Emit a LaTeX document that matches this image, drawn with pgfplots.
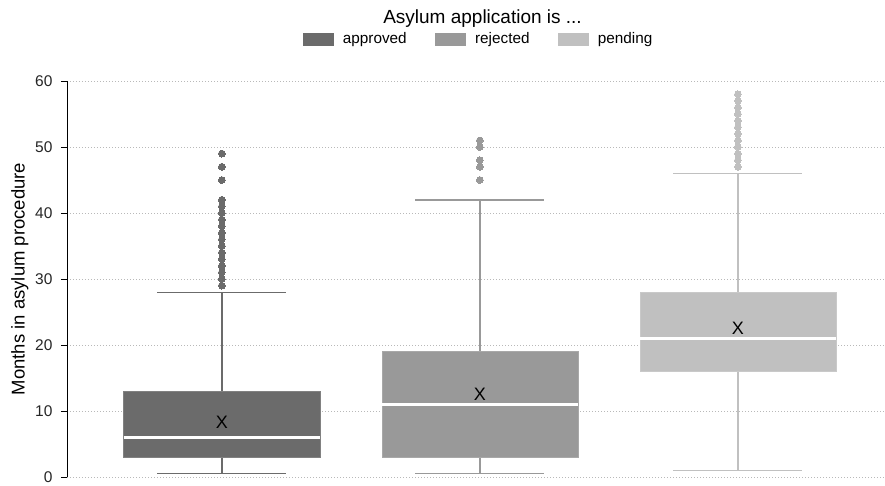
\documentclass[border=0pt]{standalone}
\usepackage{pgfplots}
\pgfplotsset{compat=1.18}
\usepgfplotslibrary{statistics}
\usepackage{fontspec}
\setmainfont{Liberation Sans}
\definecolor{cA}{RGB}{107,107,107}
\definecolor{cB}{RGB}{153,153,153}
\definecolor{cC}{RGB}{192,192,192}
\begin{document}
\begin{tikzpicture}
\useasboundingbox (-67pt,-8pt) rectangle (818pt,477pt);
\begin{axis}[
  scale only axis,
  width=818pt, height=396pt,
  xmin=-0.6, xmax=2.57,
  ymin=0, ymax=60,
  boxplot/draw direction=y,
  axis y line*=left,
  axis x line=none,
  ytick={0,10,...,60},
  tick align=outside,
  major tick length=6pt,
  every tick/.style={black, line width=0.6pt},
  y axis line style={line width=0.8pt, -},
  ymajorgrids,
  major grid style={gray!55, line width=0.7pt, dash pattern=on 0.8pt off 2.2pt},
  /pgf/number format/assume math mode=true,
  yticklabel style={font=\fontsize{15.5}{15.5}\selectfont, text=black!85, xshift=-5pt},
  ylabel={Months in asylum procedure},
  ylabel style={font=\fontsize{18.5}{18.5}\selectfont},
  title={Asylum application is ...},
  title style={at={(0.508,1)}, anchor=center, yshift=56pt, font=\fontsize{19}{19}\selectfont},
  legend style={draw=none, fill=none, legend columns=3, at={(0.503,1)}, anchor=center, yshift=42pt,
    font=\fontsize{15.3}{15.3}\selectfont,
    /tikz/every odd column/.append style={column sep=8pt},
    /tikz/every even column/.append style={column sep=26pt}},
  legend cell align=left,
  clip=false,
]
\addlegendimage{legend image code/.code={\fill[cA] (0pt,-6pt) rectangle (30pt,6pt);}}
\addlegendentry{approved}
\addlegendimage{legend image code/.code={\fill[cB] (0pt,-6pt) rectangle (30pt,6pt);}}
\addlegendentry{rejected}
\addlegendimage{legend image code/.code={\fill[cC] (0pt,-6pt) rectangle (30pt,6pt);}}
\addlegendentry{pending}

\addplot[forget plot, cA, line width=1.4pt, boxplot prepared={draw position=0, lower whisker=0.5, lower quartile=3, median=6, upper quartile=13, upper whisker=28, box extend=0.76, whisker extend=0.5,
  every box/.style={fill=cA, draw=cA!85!white, line width=0.6pt},
  every whisker/.style={cA, line width=1.4pt},
  every median/.style={white, line width=2.6pt}}]
  coordinates {};
\addplot[forget plot, only marks, color=cA, mark=*, mark size=3.4pt, mark options={fill=cA, draw=cA, line width=0pt}]
  coordinates {(0,29)(0,30)(0,31)(0,32)(0,33)(0,34)(0,35)(0,36)(0,37)(0,38)(0,39)(0,40)(0,41)(0,42)(0,45)(0,47)(0,49)};

\addplot[forget plot, cB, line width=1.4pt, boxplot prepared={draw position=1, lower whisker=0.5, lower quartile=3, median=11, upper quartile=19, upper whisker=42, box extend=0.76, whisker extend=0.5,
  every box/.style={fill=cB, draw=cB!85!white, line width=0.6pt},
  every whisker/.style={cB, line width=1.4pt},
  every median/.style={white, line width=2.6pt}}]
  coordinates {};
\addplot[forget plot, only marks, color=cB, mark=*, mark size=3.4pt, mark options={fill=cB, draw=cB, line width=0pt}]
  coordinates {(1,45)(1,47)(1,48)(1,50)(1,51)};

\addplot[forget plot, cC, line width=1.4pt, boxplot prepared={draw position=2, lower whisker=1, lower quartile=16, median=21, upper quartile=28, upper whisker=46, box extend=0.76, whisker extend=0.5,
  every box/.style={fill=cC, draw=cC!85!white, line width=0.6pt},
  every whisker/.style={cC, line width=1.4pt},
  every median/.style={white, line width=2.6pt}}]
  coordinates {};
\addplot[forget plot, only marks, color=cC, mark=*, mark size=3.4pt, mark options={fill=cC, draw=cC, line width=0pt}]
  coordinates {(2,47)(2,48)(2,49)(2,50)(2,51)(2,52)(2,53)(2,54)(2,55)(2,56)(2,57)(2,58)};

\addplot[forget plot, only marks, mark=text, text mark={\fontsize{18}{18}\selectfont X}, mark options={black}]
  coordinates {(0,8.3) (1,12.6) (2,22.5)};
\end{axis}
\end{tikzpicture}
\end{document}
